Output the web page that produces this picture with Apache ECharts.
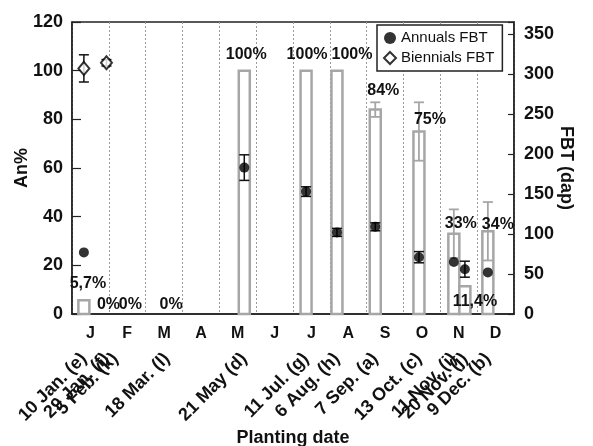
<!DOCTYPE html>
<html><head><meta charset="utf-8">
<script src="https://cdn.jsdelivr.net/npm/echarts@6/dist/echarts.min.js"></script>
<style>html,body{margin:0;padding:0;background:#fff}#c{width:593px;height:446px}</style>
</head><body><div id="c"></div>
<script>
// ---- data ----
const months = ['J','F','M','A','M','J','J','A','S','O','N','D'];
const daysInMonth = [31,28,31,30,31,30,31,31,30,31,30,31];
const plantMonth = [1,1,2,3,5,7,8,9,10,11,11,12];
const plantDay = [10,29,5,18,21,11,6,7,13,11,20,9];
const dateLabels = ['10 Jan. (e)','29 Jan. (f)','5 Feb. (k)','18 Mar. (l)','21 May (d)','11 Jul. (g)','6 Aug. (h)','7 Sep. (a)','13 Oct. (c)','11 Nov. (i)','20 Nov. (j)','9 Dec. (b)'];
const anPct = [5.7,0,0,0,100,100,100,84,75,33,11.4,34];
const anPctErr = [0,0,0,0,0,0,0,3,12,10,0,12];
const anPctLabels = ['5,7%','0%','0%','0%','100%','100%','100%','84%','75%','33%','11,4%','34%'];
const annualFBT = [77,null,null,null,183,153,102,109,71,65,56,52];
const annualFBTErr = [0,0,0,0,16,6,5,5,7,0,10,0];
const biennialFBT = [307,314,null,null,null,null,null,null,null,null,null,null];
const biennialFBTErr = [17,4,0,0,0,0,0,0,0,0,0,0];
const leftTicks = [0,20,40,60,80,100,120];
const rightTicks = [0,50,100,150,200,250,300,350];
const yearDays = 365;

// ---- styling (not data) ----
const labelNudge = [[4,-17],[2,-9],[15,-9],[4,-9],[2,-16],[1,-16],[15,-16],[8,-19],[11,-12],[7,-10],[10,15],[10,-7]];
const FONT = '"Liberation Sans", Arial, sans-serif';
const BAR_C = '#a6a6a6';

const pos = plantMonth.map((m,i)=> (m-1) + plantDay[i]/daysInMonth[m-1]);
const posEven = pos.filter((p,i)=>i%2===0);
const posOdd = pos.filter((p,i)=>i%2===1);

const barData = pos.map((p,i)=>[p, anPct[i], anPctErr[i], i]);
const annData = pos.map((p,i)=> annualFBT[i]==null?null:[p, annualFBT[i], annualFBTErr[i]]).filter(d=>d);
const bieData = pos.map((p,i)=> biennialFBT[i]==null?null:[p, biennialFBT[i], biennialFBTErr[i]]).filter(d=>d);

function dateFmt(v){ let b=0,bd=1e9; pos.forEach((p,i)=>{const d=Math.abs(p-v); if(d<bd){bd=d;b=i;}}); return dateLabels[b]; }

function dateAxis(vals){
  return {type:'value', min:0, max:months.length, position:'bottom',
    axisLine:{show:false,onZero:false}, axisTick:{show:false}, splitLine:{show:false}, minorTick:{show:false},
    axisLabel:{customValues:vals, rotate:45, margin:42, hideOverlap:false,
      fontFamily:FONT,fontSize:18,fontWeight:'bold',color:'#111', formatter:dateFmt}};
}

function errRender(color, lw, cap){
  return function(params, api){
    const x = api.value(0), v = api.value(1), e = api.value(2);
    if (!e) return null;
    const hi = api.coord([x, v+e]), lo = api.coord([x, v-e]);
    return {type:'group', children:[
      {type:'line', shape:{x1:hi[0],y1:hi[1],x2:lo[0],y2:lo[1]}, style:{stroke:color,lineWidth:lw}},
      {type:'line', shape:{x1:hi[0]-cap/2,y1:hi[1],x2:hi[0]+cap/2,y2:hi[1]}, style:{stroke:color,lineWidth:lw}},
      {type:'line', shape:{x1:lo[0]-cap/2,y1:lo[1],x2:lo[0]+cap/2,y2:lo[1]}, style:{stroke:color,lineWidth:lw}}
    ]};
  };
}

const chart = echarts.init(document.getElementById('c'), null, {renderer:'canvas'});
chart.setOption({
  animation:false,
  backgroundColor:'#fff',
  textStyle:{fontFamily:FONT},
  grid:{left:72,right:79,top:22,bottom:132,containLabel:false,outerBoundsMode:'none',
        show:true,borderColor:'#222',borderWidth:1.5,backgroundColor:'transparent'},
  legend:{
    orient:'vertical', left:377, top:25,
    backgroundColor:'#fff', borderColor:'#222', borderWidth:1.5,
    padding:[5,8,5,6], itemGap:4, itemWidth:12, itemHeight:12,
    textStyle:{fontFamily:FONT,fontSize:15,color:'#111',lineHeight:16},
    data:['Annuals FBT','Biennials FBT']
  },
  xAxis:[
    {type:'category', data:months, boundaryGap:true, position:'bottom',
     axisLine:{onZero:false,lineStyle:{color:'#222',width:1.5}},
     axisTick:{inside:true,length:5,lineStyle:{color:'#222',width:1.2}},
     axisLabel:{fontFamily:FONT,fontSize:16,fontWeight:'bold',color:'#111',margin:12},
     splitLine:{show:true,lineStyle:{color:'#9a9a9a',type:[2,2],width:1}},
     name:'Planting date', nameLocation:'middle', nameGap:115, nameMoveOverlap:false,
     nameTextStyle:{fontFamily:FONT,fontSize:18,fontWeight:'bold',color:'#111'}
    },
    dateAxis(posEven),
    dateAxis(posOdd)
  ],
  yAxis:[
    {type:'value', min:leftTicks[0], max:leftTicks[leftTicks.length-1], interval:leftTicks[1]-leftTicks[0], position:'left',
     axisLine:{show:true,onZero:false,lineStyle:{color:'#222',width:1.5}},
     axisTick:{show:true,inside:true,length:9,lineStyle:{color:'#222',width:1.2}},
     axisLabel:{fontFamily:FONT,fontSize:18,fontWeight:'bold',color:'#111',margin:9},
     splitLine:{show:false},
     name:'An%', nameLocation:'middle', nameGap:41, nameRotate:90, nameMoveOverlap:false,
     nameTextStyle:{fontFamily:FONT,fontSize:18,fontWeight:'bold',color:'#111'}
    },
    {type:'value', min:rightTicks[0], max:yearDays, interval:rightTicks[1]-rightTicks[0], position:'right',
     axisLine:{show:true,onZero:false,lineStyle:{color:'#222',width:1.5}},
     axisTick:{show:true,inside:true,length:6,lineStyle:{color:'#222',width:1.2}},
     axisLabel:{fontFamily:FONT,fontSize:18,fontWeight:'bold',color:'#111',margin:10,
       formatter:function(v){ return rightTicks.indexOf(v)>=0 ? String(v) : ''; }},
     splitLine:{show:false},
     name:'FBT (dap)', nameLocation:'middle', nameGap:43, nameRotate:-90, nameMoveOverlap:false,
     nameTextStyle:{fontFamily:FONT,fontSize:18,fontWeight:'bold',color:'#111'}
    }
  ],
  series:[
    {type:'custom', name:'An%', xAxisIndex:1, yAxisIndex:0, z:2, data:barData,
     renderItem:function(params, api){
       const x = api.value(0), v = api.value(1), e = api.value(2), i = api.value(3);
       const base = api.coord([x,0]), top = api.coord([x,v]);
       const w = 11, cap = 10;
       const ch = [];
       if (v>0){
         ch.push({type:'rect', shape:{x:base[0]-w/2, y:top[1], width:w, height:base[1]-top[1]},
                  style:{fill:'#fff', stroke:BAR_C, lineWidth:2.5}});
       }
       if (e>0){
         const hi = api.coord([x,v+e]), lo = api.coord([x,v-e]);
         ch.push({type:'line', shape:{x1:hi[0],y1:hi[1],x2:lo[0],y2:lo[1]}, style:{stroke:BAR_C,lineWidth:1.8}});
         ch.push({type:'line', shape:{x1:hi[0]-cap/2,y1:hi[1],x2:hi[0]+cap/2,y2:hi[1]}, style:{stroke:BAR_C,lineWidth:1.8}});
         ch.push({type:'line', shape:{x1:lo[0]-cap/2,y1:lo[1],x2:lo[0]+cap/2,y2:lo[1]}, style:{stroke:BAR_C,lineWidth:1.8}});
       }
       const nd = labelNudge[i];
       ch.push({type:'text', z2:10, style:{text:anPctLabels[i], x:top[0]+nd[0], y:top[1]+nd[1],
                align:'center', verticalAlign:'middle', fontFamily:FONT, fontSize:16, fontWeight:'bold', fill:'#111'}});
       return {type:'group', children:ch};
     }
    },
    {type:'custom', xAxisIndex:1, yAxisIndex:1, z:3, data:annData, renderItem:errRender('#111',1.5,10)},
    {type:'custom', xAxisIndex:1, yAxisIndex:1, z:3, data:bieData, renderItem:errRender('#111',1.5,10)},
    {type:'scatter', name:'Annuals FBT', xAxisIndex:1, yAxisIndex:1, z:4, data:annData,
     symbol:'circle', symbolSize:10, itemStyle:{color:'#000'}},
    {type:'scatter', name:'Biennials FBT', xAxisIndex:1, yAxisIndex:1, z:4, data:bieData,
     symbol:'emptyDiamond', symbolSize:[11,13], itemStyle:{color:'#000',borderWidth:1.5}}
  ]
});
</script></body></html>
